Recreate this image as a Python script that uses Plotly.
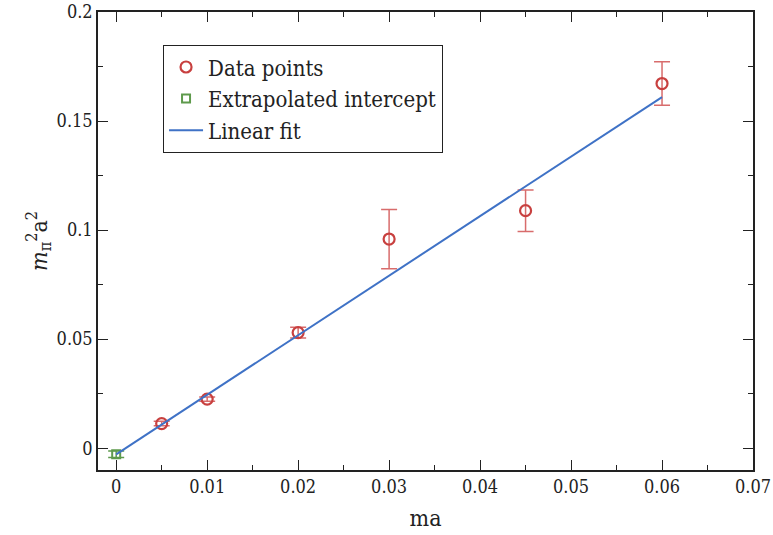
import plotly.graph_objects as go

# Measured points: quark mass ma vs. squared pion mass (lattice units)
ma = [0.005, 0.01, 0.02, 0.03, 0.045, 0.06]
mpi2 = [0.0113, 0.0225, 0.0530, 0.0959, 0.1089, 0.1672]
mpi2_err = [0.0010, 0.0010, 0.0025, 0.0136, 0.0095, 0.0100]

# Chiral-limit extrapolation
intercept_x = [0.0]
intercept_y = [-0.0028]
intercept_err = [0.0015]

# Linear fit parameters
fit_slope = 2.73
fit_offset = -0.0028
fit_x = [0.0, 0.06]
fit_y = [fit_offset + fit_slope * x for x in fit_x]

x_ticks = [0, 0.01, 0.02, 0.03, 0.04, 0.05, 0.06, 0.07]
x_tick_text = ["0", "0.01", "0.02", "0.03", "0.04", "0.05", "0.06", "0.07"]
y_ticks = [0, 0.05, 0.1, 0.15, 0.2]
y_tick_text = ["0", "0.05", "0.1", "0.15", "0.2"]

RED = "#c8403f"
RED_ERR = "#d86c6c"
GREEN = "#5e9a4c"
BLUE = "#3f72c6"
FONT = "DejaVu Serif Condensed, DejaVu Serif"

fig = go.Figure()

fig.add_trace(go.Scatter(
    x=ma, y=mpi2, mode="markers", name="Data points",
    marker=dict(symbol="circle-open", size=11, color=RED, line=dict(width=2.2, color=RED)),
    error_y=dict(type="data", array=mpi2_err, color=RED_ERR, thickness=1.5, width=8),
))
fig.add_trace(go.Scatter(
    x=intercept_x, y=intercept_y, mode="markers", name="Extrapolated intercept",
    marker=dict(symbol="square-open", size=8, color=GREEN, line=dict(width=2, color=GREEN)),
    error_y=dict(type="data", array=intercept_err, color=GREEN, thickness=1.5, width=8),
))
fig.add_trace(go.Scatter(
    x=fit_x, y=fit_y, mode="lines", name="Linear fit",
    line=dict(color=BLUE, width=2),
))

axis_common = dict(
    showline=True, linecolor="#222222", linewidth=1.5, mirror="ticks",
    ticks="inside", ticklen=10, tickwidth=1.2, tickcolor="#222222",
    showgrid=False, zeroline=False, automargin=False,
    tickfont=dict(family=FONT, size=18, color="#222222"),
)

fig.update_xaxes(
    range=[-0.002, 0.07], tickvals=x_ticks, ticktext=x_tick_text,
    minor=dict(ticks="inside", dtick=0.005, tick0=0, ticklen=5, tickwidth=1.2, tickcolor="#222222"),
    title=dict(text="ma", font=dict(family=FONT, size=23, color="#222222"), standoff=14),
    **axis_common,
)
fig.update_yaxes(
    range=[-0.01, 0.2], tickvals=y_ticks, ticktext=y_tick_text,
    minor=dict(ticks="inside", dtick=0.025, tick0=0, ticklen=5, tickwidth=1.2, tickcolor="#222222"),
    title=dict(text="<i>m</i><sub>π</sub><sup>2</sup>a<sup>2</sup>",
               font=dict(family=FONT, size=23, color="#222222"), standoff=3),
    **axis_common,
)

fig.update_layout(
    width=773, height=535,
    margin=dict(l=98, r=20, t=12, b=65),
    paper_bgcolor="white", plot_bgcolor="white",
    font=dict(family=FONT, color="#222222"),
    legend=dict(
        x=0.099, y=0.928, xanchor="left", yanchor="top",
        traceorder="normal",
        bgcolor="white", bordercolor="#222222", borderwidth=1.2,
        font=dict(family=FONT, size=22, color="#222222"),
        tracegroupgap=0, itemwidth=34,
    ),
)

fig.write_html("out.html")
